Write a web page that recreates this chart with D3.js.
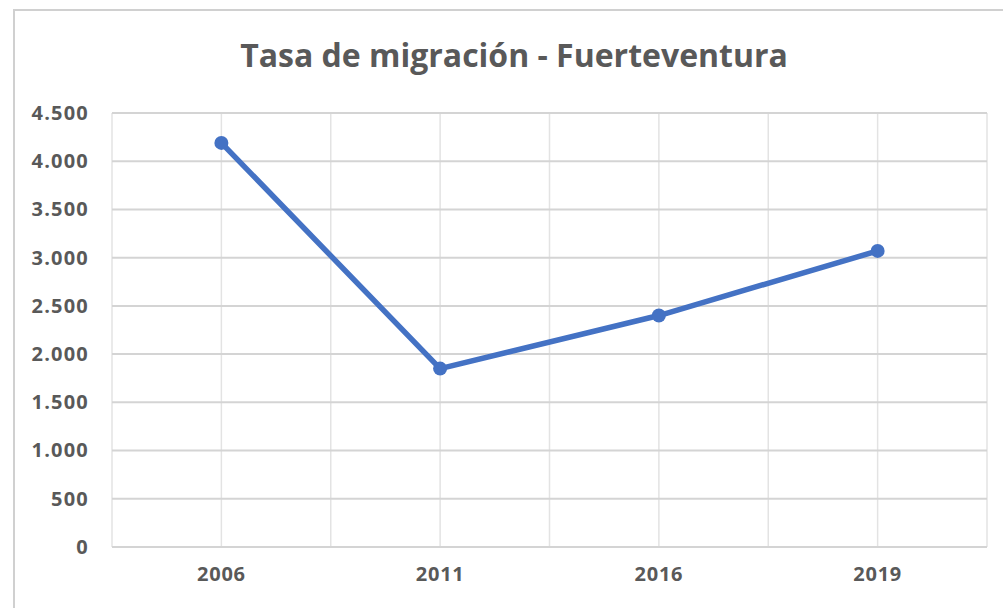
<!DOCTYPE html>
<html>
<head>
<meta charset="utf-8">
<script src="https://cdn.jsdelivr.net/npm/d3@7"></script>
<style>
  html, body { margin: 0; padding: 0; background: #fff; }
  svg { display: block; }
</style>
</head>
<body>
<svg id="chart" width="1003" height="608"></svg>
<script>
// Migration rate for Fuerteventura by survey year
const years = ["2006", "2011", "2016", "2019"];
const rates = [4190, 1850, 2400, 3070];
const yTicks = [0, 500, 1000, 1500, 2000, 2500, 3000, 3500, 4000, 4500];
const chartTitle = "Tasa de migración - Fuerteventura";

const W = 1003, H = 608;
const margin = { top: 113, right: 16, bottom: 61, left: 112 };
const svg = d3.select("#chart");

// Chart frame (top and left edges visible)
svg.append("path")
  .attr("d", `M14,${H} L14,10 L${W},10`)
  .attr("fill", "none")
  .attr("stroke", "#d0d0d0")
  .attr("stroke-width", 2);

const x = d3.scaleBand().domain(years).range([margin.left, W - margin.right]).paddingInner(0).paddingOuter(0);
const y = d3.scaleLinear().domain([0, 4500]).range([H - margin.bottom, margin.top]);

const xPos = d => x(d) + x.bandwidth() / 2;

// Vertical gridlines at category centres and category boundaries
const vLines = [];
years.forEach(d => { vLines.push(x(d)); vLines.push(xPos(d)); });
vLines.push(x(years[years.length - 1]) + x.bandwidth());
svg.append("g").selectAll("line").data(vLines).join("line")
  .attr("x1", d => d).attr("x2", d => d)
  .attr("y1", y(4500)).attr("y2", y(0))
  .attr("stroke", "#e3e3e3").attr("stroke-width", 1.5);

// Horizontal gridlines
svg.append("g").selectAll("line").data(yTicks).join("line")
  .attr("x1", x.range()[0]).attr("x2", x.range()[1])
  .attr("y1", d => y(d)).attr("y2", d => y(d))
  .attr("stroke", "#d4d4d4").attr("stroke-width", 2);

const fmt = d3.formatLocale({ decimal: ",", thousands: ".", grouping: [3], currency: ["", "€"] }).format(",");

// Y axis labels
const yAxis = d3.axisLeft(y).tickValues(yTicks).tickFormat(fmt).tickSize(0).tickPadding(23);
const gy = svg.append("g").attr("transform", `translate(${margin.left},0)`).call(yAxis);
gy.select(".domain").remove();
gy.selectAll("text")
  .attr("font-family", "'Open Sans', sans-serif")
  .attr("font-weight", 700)
  .attr("font-size", 20)
  .attr("letter-spacing", 1.2)
  .attr("fill", "#595959");

// X axis labels
const xAxis = d3.axisBottom(x).tickSize(0).tickPadding(20);
const gx = svg.append("g").attr("transform", `translate(0,${y(0)})`).call(xAxis);
gx.select(".domain").remove();
gx.selectAll("text")
  .attr("font-family", "'Open Sans', sans-serif")
  .attr("font-weight", 700)
  .attr("font-size", 20)
  .attr("letter-spacing", 0.8)
  .attr("fill", "#595959");

// Series line and markers
const line = d3.line().x((d, i) => xPos(years[i])).y(d => y(d));
svg.append("path")
  .datum(rates)
  .attr("d", line)
  .attr("fill", "none")
  .attr("stroke", "#4472C4")
  .attr("stroke-width", 5.5)
  .attr("stroke-linejoin", "round");

svg.append("g").selectAll("circle").data(rates).join("circle")
  .attr("cx", (d, i) => xPos(years[i]))
  .attr("cy", d => y(d))
  .attr("r", 7)
  .attr("fill", "#4472C4");

// Title
svg.append("text")
  .attr("x", 514)
  .attr("y", 67)
  .attr("text-anchor", "middle")
  .attr("font-family", "'Open Sans', sans-serif")
  .attr("font-weight", 700)
  .attr("font-size", 32)
  .attr("fill", "#595959")
  .text(chartTitle);
</script>
</body>
</html>
